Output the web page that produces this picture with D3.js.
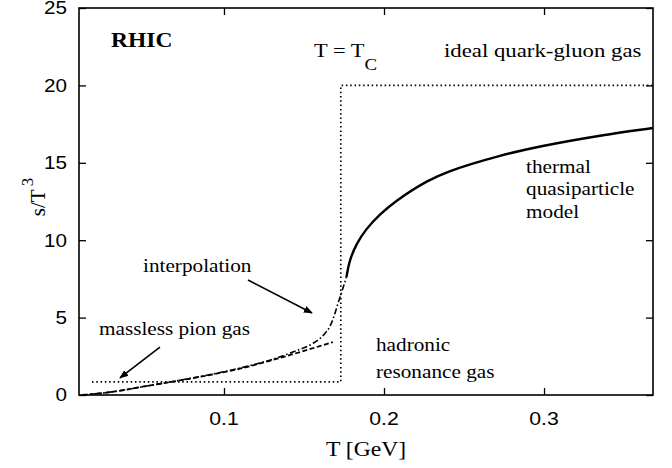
<!DOCTYPE html>
<html>
<head>
<meta charset="utf-8">
<script src="https://cdn.jsdelivr.net/npm/d3@7"></script>
<style>
  html, body { margin: 0; padding: 0; background: #fff; }
  svg { display: block; }
  .sans { font-family: "Liberation Sans", Arimo, Arial, Helvetica, sans-serif; }
  .serif { font-family: "Liberation Serif", Tinos, "Times New Roman", Times, "DejaVu Serif", serif; }
</style>
</head>
<body>
<svg id="chart" width="672" height="468"></svg>
<script>
// Entropy density s/T^3 versus temperature T (GeV)

// thermal quasiparticle model (solid)
const qpT = [0.1765, 0.1788, 0.1830, 0.1890, 0.1975, 0.2080, 0.2270, 0.2410, 0.2725, 0.300, 0.335, 0.3681];
const qpS = [7.6, 8.7, 9.75, 10.7, 11.65, 12.55, 13.8, 14.45, 15.45, 16.1, 16.75, 17.25];

// hadronic resonance gas (dashed)
const hrgT = [0.0113, 0.030, 0.050, 0.070, 0.090, 0.110, 0.130, 0.150, 0.168];
const hrgS = [0.0, 0.20, 0.55, 0.90, 1.27, 1.70, 2.25, 2.85, 3.42];

// interpolation (dash-dot)
const intT = [0.0113, 0.030, 0.050, 0.070, 0.090, 0.110, 0.130, 0.145, 0.155, 0.162, 0.166, 0.1685, 0.1706, 0.174, 0.1765];
const intS = [0.0, 0.20, 0.55, 0.91, 1.29, 1.74, 2.30, 2.85, 3.30, 3.85, 4.40, 5.00, 5.70, 6.80, 7.60];

// massless pion gas / ideal quark-gluon gas step at T = Tc (dotted)
const stepT = [0.0175, 0.173, 0.173, 0.3681];
const stepS = [0.85, 0.85, 20.0, 20.0];

// axis ticks
const xTicks = [0.1, 0.2, 0.3];
const yTicks = [0, 5, 10, 15, 20, 25];

const svg = d3.select("#chart");
const W = 672, H = 468;
const margin = { top: 8, right: 19, bottom: 73, left: 79 };
const iw = W - margin.left - margin.right;
const ih = H - margin.top - margin.bottom;

const x = d3.scaleLinear().domain([0.0094, 0.3681]).range([0, iw]);
const y = d3.scaleLinear().domain([0, 25]).range([ih, 0]);

const g = svg.append("g").attr("transform", `translate(${margin.left},${margin.top})`);

const stretch = 1.18;

// tick marks on all four sides, pointing inwards
const tickLen = 7;
const axisStyle = sel => {
  sel.select(".domain").remove();
  sel.selectAll(".tick line").attr("stroke", "#000").attr("stroke-width", 1.3);
  sel.selectAll(".tick text").remove();
};
g.append("g").attr("transform", `translate(0,${ih})`)
  .call(d3.axisBottom(x).tickValues(xTicks).tickSize(-tickLen)).call(axisStyle);
g.append("g")
  .call(d3.axisTop(x).tickValues(xTicks).tickSize(-tickLen)).call(axisStyle);
g.append("g")
  .call(d3.axisLeft(y).tickValues(yTicks).tickSize(-tickLen)).call(axisStyle);
g.append("g").attr("transform", `translate(${iw},0)`)
  .call(d3.axisRight(y).tickValues(yTicks).tickSize(-tickLen)).call(axisStyle);

// tick labels
xTicks.forEach(t => {
  g.append("text").attr("class", "sans")
    .attr("transform", `translate(${x(t)},${ih + 30}) scale(${stretch},1)`)
    .attr("text-anchor", "middle")
    .attr("font-size", 18)
    .text(d3.format(".1f")(t));
});
yTicks.forEach(t => {
  g.append("text").attr("class", "sans")
    .attr("transform", `translate(-12,${y(t) + 6.3}) scale(${stretch},1)`)
    .attr("text-anchor", "end")
    .attr("font-size", 17.5)
    .text(t);
});

// frame
g.append("rect").attr("width", iw).attr("height", ih)
  .attr("fill", "none").attr("stroke", "#000").attr("stroke-width", 1.6);

// curves
const line = d3.line().x(d => x(d[0])).y(d => y(d[1]));
const lineSmooth = d3.line().x(d => x(d[0])).y(d => y(d[1])).curve(d3.curveMonotoneX);
const lineRound = d3.line().x(d => x(d[0])).y(d => y(d[1])).curve(d3.curveCatmullRom.alpha(0.5));

g.append("path").datum(d3.zip(stepT, stepS)).attr("d", line)
  .attr("fill", "none").attr("stroke", "#000").attr("stroke-width", 1.7)
  .attr("stroke-dasharray", "1.5,2.8");

g.append("path").datum(d3.zip(hrgT, hrgS)).attr("d", lineSmooth)
  .attr("fill", "none").attr("stroke", "#000").attr("stroke-width", 1.8)
  .attr("stroke-dasharray", "5,2.5");

g.append("path").datum(d3.zip(intT, intS)).attr("d", lineSmooth)
  .attr("fill", "none").attr("stroke", "#000").attr("stroke-width", 1.6)
  .attr("stroke-dasharray", "6,2.5,1.5,2.5");

g.append("path").datum(d3.zip(qpT, qpS)).attr("d", lineRound)
  .attr("fill", "none").attr("stroke", "#000").attr("stroke-width", 2.4);

// arrows
svg.append("defs").append("marker")
  .attr("id", "head").attr("viewBox", "0 0 10 10").attr("refX", 9).attr("refY", 5)
  .attr("markerWidth", 9).attr("markerHeight", 9).attr("markerUnits", "userSpaceOnUse")
  .attr("orient", "auto")
  .append("path").attr("d", "M0,1 L10,5 L0,9 Z").attr("fill", "#000");

const arrows = [
  { from: [0.115, 7.43], to: [0.155, 5.30] },
  { from: [0.060, 3.10], to: [0.035, 1.10] }
];
arrows.forEach(a => {
  g.append("line")
    .attr("x1", x(a.from[0])).attr("y1", y(a.from[1]))
    .attr("x2", x(a.to[0])).attr("y2", y(a.to[1]))
    .attr("stroke", "#000").attr("stroke-width", 1.6)
    .attr("marker-end", "url(#head)");
});

// annotations (positions in data units)
const label = (T, s, txt, opts = {}) => {
  return g.append("text").attr("class", "serif")
    .attr("transform", `translate(${x(T)},${y(s)}) scale(${opts.sx || stretch},1)`)
    .attr("font-size", opts.size || 18)
    .attr("font-weight", opts.bold ? "bold" : "normal")
    .attr("text-anchor", opts.anchor || "start")
    .text(txt);
};
label(0.0294, 22.45, "RHIC", { bold: true, size: 21, sx: 1.12 });
const tc = label(0.1563, 21.83, "T = T", { size: 19 });
tc.append("tspan").attr("dy", 13).attr("font-size", 16).text("C");
label(0.2375, 21.83, "ideal quark-gluon gas", { size: 19, sx: 1.2 });
label(0.2888, 14.35, "thermal");
label(0.2888, 12.95, "quasiparticle");
label(0.2888, 11.45, "model");
label(0.0494, 7.95, "interpolation");
label(0.0219, 3.87, "massless pion gas");
label(0.1950, 2.85, "hadronic");
label(0.1950, 1.10, "resonance gas");

// axis titles
svg.append("text").attr("class", "serif")
  .attr("transform", `translate(366,456) scale(${stretch},1)`)
  .attr("text-anchor", "middle")
  .attr("font-size", 20)
  .text("T [GeV]");

const yl = svg.append("text").attr("class", "serif")
  .attr("transform", `translate(45,197) rotate(-90)`)
  .attr("text-anchor", "middle")
  .attr("font-size", 21);
yl.append("tspan").text("s/T");
yl.append("tspan").attr("dy", -12).attr("dx", 3).attr("font-size", 17).text("3");
</script>
</body>
</html>
